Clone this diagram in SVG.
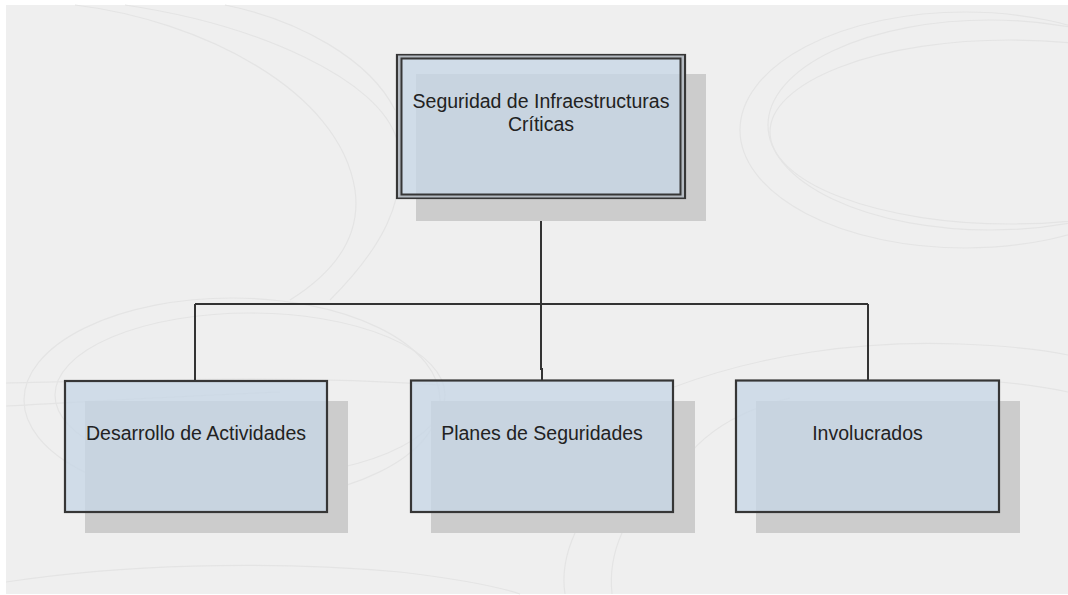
<svg xmlns="http://www.w3.org/2000/svg" width="1068" height="595" viewBox="0 0 1068 595">
  <style>
    .deco { fill: none; stroke: #e4e4e4; stroke-width: 1.2; }
    .shadow { fill: #cccccc; }
    .box { fill: rgb(199,214,230); fill-opacity: 0.78; stroke: #363636; stroke-width: 2.2; }
    .band { fill: none; stroke: #b4bac1; stroke-width: 3; }
    .edge { fill: none; stroke: #363636; stroke-width: 2; }
    .label { font-family: "Liberation Sans", Arial, sans-serif; font-size: 19.5px; fill: #222222; text-anchor: middle; }
    .wire { fill: none; stroke: #333333; stroke-width: 2; }
  </style>

  <!-- page -->
  <rect x="0" y="0" width="1068" height="595" fill="#ffffff"/>
  <rect x="6" y="5" width="1062" height="589" fill="#efefef"/>

  <!-- decorative swirls -->
  <g id="background-swirls">
    <path class="deco" d="M75 5 C200 20 340 90 355 190 C362 240 330 275 290 300"/>
    <path class="deco" d="M125 5 C260 25 380 80 397 140 C410 200 380 250 330 300"/>
    <path class="deco" d="M225 5 C300 20 370 60 395 110"/>
    <ellipse class="deco" cx="965" cy="130" rx="225" ry="118"/>
    <ellipse class="deco" cx="990" cy="125" rx="222" ry="105"/>
    <ellipse class="deco" cx="1010" cy="132" rx="240" ry="92"/>
    <ellipse class="deco" cx="232" cy="400" rx="208" ry="102"/>
    <ellipse class="deco" cx="250" cy="395" rx="195" ry="82"/>
    <path class="deco" d="M6 383 C150 380 300 375 440 385"/>
    <path class="deco" d="M6 406 C120 400 200 395 280 392"/>
    <path class="deco" d="M674 387 C760 355 860 340 960 344 C1010 346 1045 350 1068 355"/>
    <path class="deco" d="M690 453 C710 430 740 410 790 398"/>
    <path class="deco" d="M970 380 C1010 382 1040 386 1068 392"/>
    <path class="deco" d="M6 582 C120 565 260 560 400 572 C450 578 490 584 520 594"/>
    <path class="deco" d="M575 533 C565 555 562 575 565 594"/>
    <path class="deco" d="M622 533 C612 555 610 575 612 594"/>
  </g>

  <!-- connectors -->
  <g id="connectors">
    <path class="wire" d="M541 199 V304"/>
    <path class="wire" d="M195 304 H868"/>
    <path class="wire" d="M195 304 V381"/>
    <path class="wire" d="M541 304 V369 H542 V380"/>
    <path class="wire" d="M868 304 V380"/>
  </g>

  <!-- root node -->
  <g id="node-seguridad">
    <rect class="shadow" x="416" y="74" width="290" height="147"/>
    <rect class="box" x="397" y="55" width="288" height="143"/>
    <rect class="band" x="399.5" y="57" width="283" height="139"/>
    <rect class="edge" x="401.5" y="58.5" width="279" height="136" stroke-width="1.6"/>
    <text class="label" x="541" y="108">Seguridad de Infraestructuras</text>
    <text class="label" x="541" y="131">Críticas</text>
  </g>

  <!-- child nodes -->
  <g id="node-desarrollo">
    <rect class="shadow" x="85" y="401" width="263" height="132"/>
    <rect class="box" x="65" y="381" width="262" height="131"/>
    <text class="label" x="196" y="440">Desarrollo de Actividades</text>
  </g>

  <g id="node-planes">
    <rect class="shadow" x="431" y="401" width="264" height="132"/>
    <rect class="box" x="411" y="380.5" width="262" height="131.5"/>
    <text class="label" x="542" y="440">Planes de Seguridades</text>
  </g>

  <g id="node-involucrados">
    <rect class="shadow" x="756" y="401" width="264" height="132"/>
    <rect class="box" x="736" y="380.5" width="263" height="131.5"/>
    <text class="label" x="867.5" y="440">Involucrados</text>
  </g>
</svg>
